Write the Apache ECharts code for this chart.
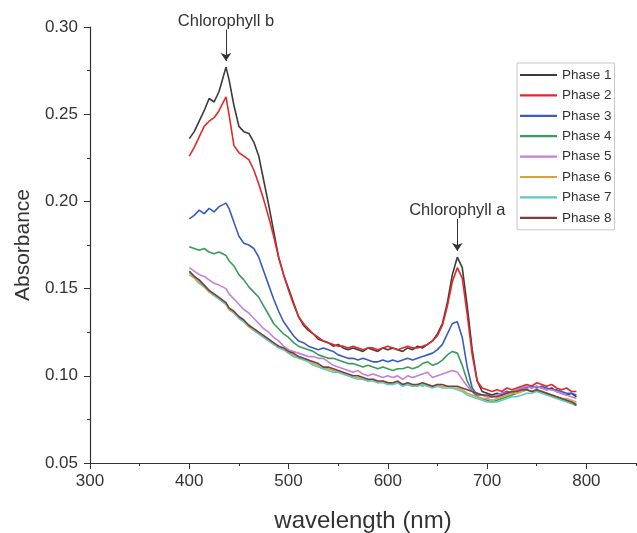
<!DOCTYPE html>
<html>
<head>
<meta charset="utf-8">
<title>Absorbance</title>
<script src="https://cdn.jsdelivr.net/npm/echarts@6/dist/echarts.min.js"></script>
<style>
    html, body { margin: 0; padding: 0; background: #fff; }
    #container { width: 637px; height: 533px; }
</style>
</head>
<body>
<div id="container"></div>
<script>
// 波长 (nm)
var wavelength = [
    400, 405, 410, 415, 420, 425, 430, 437, 440, 445,
    450, 455, 460, 465, 470, 475, 480, 485, 490, 495,
    500, 505, 510, 515, 520, 525, 530, 535, 540, 545,
    550, 555, 560, 565, 570, 575, 580, 585, 590, 595,
    600, 605, 610, 615, 620, 625, 630, 635, 640, 645,
    650, 655, 660, 665, 670, 675, 680, 685, 690, 695,
    700, 705, 710, 715, 720, 725, 730, 735, 740, 745,
    750, 755, 760, 765, 770, 775, 780, 785, 790
];

var phase1 = [
    .236, .240, .246, .252, .259, .257, .263, .277, .270, .255,
    .243, .240, .239, .234, .226, .212, .198, .183, .168, .158,
    .150, .142, .134, .129, .126, .124, .121, .120, .119, .117,
    .118, .116, .115, .116, .115, .114, .116, .115, .114, .116,
    .115, .116, .115, .114, .116, .115, .117, .116, .118, .120,
    .124, .130, .142, .158, .168, .162, .140, .115, .097, .091,
    .090, .089, .090, .089, .091, .090, .092, .093, .094, .093,
    .094, .093, .092, .093, .091, .090, .089, .090, .088
];
var phase2 = [
    .226, .231, .237, .243, .246, .248, .252, .260, .250, .232,
    .228, .226, .224, .218, .210, .201, .191, .180, .168, .158,
    .149, .141, .134, .130, .127, .124, .122, .120, .119, .118,
    .117, .117, .116, .117, .116, .115, .116, .116, .115, .116,
    .117, .116, .115, .116, .117, .116, .116, .117, .118, .120,
    .123, .129, .140, .154, .162, .156, .135, .112, .097, .093,
    .092, .091, .092, .091, .093, .092, .093, .094, .095, .094,
    .096, .095, .094, .095, .093, .092, .093, .091, .091
];
var phase3 = [
    .190, .192, .195, .193, .196, .194, .197, .199, .196, .188,
    .180, .176, .175, .173, .168, .160, .152, .144, .137, .131,
    .127, .123, .120, .119, .117, .116, .115, .116, .115, .114,
    .112, .111, .110, .110, .109, .110, .109, .108, .108, .109,
    .108, .109, .108, .109, .110, .109, .110, .111, .112, .113,
    .115, .118, .124, .130, .131, .122, .105, .093, .089, .089,
    .088, .088, .089, .090, .091, .090, .092, .093, .093, .094,
    .093, .094, .093, .092, .092, .091, .090, .090, .089
];
var phase4 = [
    .174, .173, .172, .173, .171, .170, .171, .169, .166, .163,
    .158, .155, .151, .148, .145, .140, .135, .130, .127, .124,
    .122, .119, .117, .116, .115, .114, .112, .111, .110, .110,
    .109, .108, .107, .107, .106, .105, .106, .105, .104, .105,
    .104, .103, .104, .104, .105, .104, .105, .107, .108, .106,
    .107, .109, .112, .114, .113, .106, .097, .091, .088, .087,
    .086, .085, .086, .087, .088, .089, .090, .091, .092, .091,
    .092, .091, .090, .089, .088, .087, .086, .085, .084
];
var phase5 = [
    .162, .160, .158, .157, .155, .153, .152, .150, .147, .144,
    .141, .138, .136, .133, .130, .127, .125, .122, .120, .117,
    .115, .114, .113, .112, .111, .111, .110, .110, .108, .106,
    .105, .104, .103, .102, .103, .101, .100, .101, .100, .099,
    .100, .099, .100, .098, .100, .099, .100, .101, .102, .099,
    .100, .101, .102, .103, .102, .098, .094, .091, .090, .089,
    .088, .088, .089, .090, .090, .091, .092, .093, .094, .093,
    .094, .093, .092, .092, .091, .090, .089, .088, .087
];
var phase6 = [
    .158, .156, .153, .151, .148, .146, .144, .141, .138, .136,
    .133, .131, .128, .126, .124, .122, .120, .118, .117, .115,
    .113, .112, .111, .110, .109, .107, .106, .104, .104, .103,
    .102, .101, .100, .099, .099, .098, .097, .098, .096, .097,
    .096, .095, .096, .095, .095, .094, .095, .094, .095, .094,
    .095, .094, .094, .093, .093, .092, .090, .089, .088, .087,
    .087, .086, .087, .088, .089, .090, .090, .091, .092, .091,
    .092, .091, .090, .089, .088, .087, .087, .086, .085
];
var phase7 = [
    .159, .157, .154, .151, .149, .146, .144, .141, .139, .136,
    .133, .131, .129, .126, .124, .122, .120, .118, .116, .115,
    .113, .111, .110, .109, .108, .106, .105, .104, .103, .102,
    .102, .101, .100, .099, .098, .098, .097, .097, .096, .096,
    .095, .095, .096, .094, .095, .094, .094, .095, .094, .093,
    .094, .093, .093, .093, .092, .091, .089, .088, .087, .086,
    .085, .085, .085, .086, .087, .088, .088, .089, .090, .090,
    .091, .090, .089, .088, .087, .086, .085, .084, .083
];
var phase8 = [
    .160, .157, .155, .152, .149, .147, .145, .142, .139, .137,
    .134, .132, .129, .127, .125, .123, .121, .119, .117, .116,
    .114, .113, .111, .110, .109, .108, .107, .105, .105, .104,
    .103, .102, .101, .100, .100, .099, .098, .098, .097, .097,
    .096, .096, .097, .095, .096, .095, .095, .096, .095, .094,
    .095, .095, .094, .094, .094, .093, .092, .091, .090, .089,
    .089, .088, .088, .089, .090, .091, .091, .092, .092, .091,
    .092, .091, .090, .089, .088, .087, .086, .085, .083
];

var phaseNames = ['Phase 1', 'Phase 2', 'Phase 3', 'Phase 4', 'Phase 5', 'Phase 6', 'Phase 7', 'Phase 8'];
var phaseData = [phase1, phase2, phase3, phase4, phase5, phase6, phase7, phase8];

// 峰位标注
var peakNames = ['Chlorophyll b', 'Chlorophyll a'];
var peakX = [437, 670];
var peakArrowFrom = [0.2985, 0.190];
var peakArrowTo = [0.2805, 0.1715];

var xTicks = [300, 400, 500, 600, 700, 800];

var fontName = 'Arial, "Liberation Sans", sans-serif';

var myChart = echarts.init(document.getElementById('container'));

var series = phaseNames.map(function (name, i) {
    var s = {
        name: name,
        type: 'line',
        xAxisIndex: 0,
        yAxisIndex: 0,
        symbol: 'none',
        smooth: false,
        lineStyle: { width: 1.6 },
        data: wavelength.map(function (w, k) { return [w, phaseData[i][k]]; })
    };
    if (i === 0) {
        s.markLine = {
            silent: true,
            symbol: ['none', 'arrow'],
            symbolSize: 8,
            lineStyle: { color: '#333', width: 1, type: 'solid' },
            label: {
                show: true,
                position: 'start',
                distance: 0,
                color: '#333',
                fontSize: 16.5,
                fontFamily: fontName,
                formatter: function (p) { return p.name; }
            },
            data: peakNames.map(function (n, j) {
                return [
                    { name: n, coord: [peakX[j], peakArrowFrom[j]] },
                    { coord: [peakX[j], peakArrowTo[j]] }
                ];
            })
        };
    }
    return s;
});

option = {
    animation: false,
    color: ['#3b3b3b', '#e4282a', '#3b5bc4', '#3a9b5b', '#c57fd8', '#d9a33c', '#5ccac2', '#7b3f3f'],
    textStyle: { fontFamily: fontName },
    grid: {
        left: 90,
        right: 1,
        top: 27,
        bottom: 70,
        outerBoundsMode: 'none'
    },
    legend: {
        orient: 'vertical',
        left: 517,
        top: 63,
        padding: [5, 3, 5, 3],
        icon: 'rect',
        itemWidth: 37,
        itemHeight: 2.2,
        itemGap: 6.4,
        borderColor: '#c8c8c8',
        borderWidth: 1,
        textStyle: { fontSize: 13.5, lineHeight: 14, color: '#333', fontFamily: fontName },
        data: phaseNames
    },
    xAxis: [{
        type: 'value',
        position: 'bottom',
        min: 300,
        max: 850,
        interval: 100,
        name: 'wavelength (nm)',
        nameLocation: 'middle',
        nameGap: 46,
        nameTextStyle: { fontSize: 24, color: '#333', fontFamily: fontName },
        axisLine: { show: true, lineStyle: { color: '#333', width: 1.2 } },
        axisTick: { show: true, length: 6, lineStyle: { color: '#333' } },
        axisLabel: {
            fontSize: 17,
            color: '#333',
            margin: 10,
            showMaxLabel: false,
            formatter: function (v) { return xTicks.indexOf(v) >= 0 ? String(v) : ''; }
        },
        splitLine: { show: false }
    }, {
        // 次刻度
        type: 'value',
        position: 'bottom',
        min: 300,
        max: 850,
        interval: 50,
        axisLine: { show: false },
        axisTick: { show: true, length: 3, lineStyle: { color: '#333' } },
        axisLabel: { show: false },
        splitLine: { show: false }
    }],
    yAxis: [{
        type: 'value',
        position: 'left',
        min: 0.05,
        max: 0.30,
        interval: 0.05,
        name: 'Absorbance',
        nameLocation: 'middle',
        nameGap: 53,
        nameTextStyle: { fontSize: 21, color: '#333', fontFamily: fontName },
        axisLine: { show: true, lineStyle: { color: '#333', width: 1.2 } },
        axisTick: { show: true, length: 6, lineStyle: { color: '#333' } },
        axisLabel: {
            fontSize: 17,
            color: '#333',
            margin: 12,
            formatter: function (v) { return v.toFixed(2); }
        },
        splitLine: { show: false }
    }, {
        // 次刻度
        type: 'value',
        position: 'left',
        min: 0.05,
        max: 0.30,
        interval: 0.025,
        axisLine: { show: false },
        axisTick: { show: true, length: 3, lineStyle: { color: '#333' } },
        axisLabel: { show: false },
        splitLine: { show: false }
    }],
    series: series
};

myChart.setOption(option);
</script>
</body>
</html>
